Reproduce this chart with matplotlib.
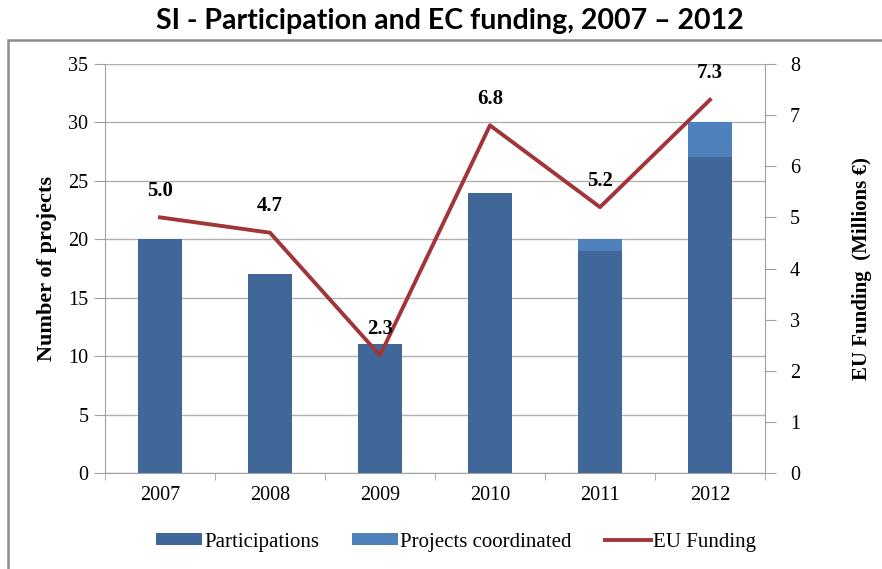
import numpy as np
import matplotlib.pyplot as plt
from matplotlib.patches import Rectangle

years = ["2007", "2008", "2009", "2010", "2011", "2012"]
participations = [20, 17, 11, 24, 19, 27]
coordinated = [0, 0, 0, 0, 1, 3]
eu_funding = [5.0, 4.7, 2.3, 6.8, 5.2, 7.3]

dark_blue = "#3F6797"
light_blue = "#4F81BD"
line_red = "#A0363A"
serif = ["Liberation Serif", "DejaVu Serif"]

fig = plt.figure(figsize=(8.82, 5.69), dpi=100)

# outer frame like the original chart box
fig.patches.append(Rectangle((8 / 882, -0.05), 1.0, 1 - 40 / 569 + 0.05,
                             transform=fig.transFigure, fill=False,
                             edgecolor="#8C8C8C", linewidth=1.8))

fig.text(0.51, 1 - 21 / 569, "SI - Participation and EC funding, 2007 \u2013 2012",
         ha="center", va="center", fontsize=20.5, fontweight="bold",
         family=["Lato", "DejaVu Sans"])

ax = fig.add_axes([105 / 882, 1 - 473 / 569, (765 - 105) / 882, (473 - 64) / 569])
x = np.arange(len(years))

b1 = ax.bar(x, participations, width=0.4, color=dark_blue, zorder=2,
            label="Participations")
b2 = ax.bar(x, coordinated, width=0.4, bottom=participations, color=light_blue,
            zorder=2, label="Projects coordinated")

ax.set_xlim(-0.5, len(years) - 0.5)
ax.set_ylim(0, 35)
ax.set_yticks(range(0, 36, 5))
ax.set_xticks(x)
ax.set_xticklabels(years)
ax.set_xticks(np.arange(-0.5, len(years), 1), minor=True)
ax.yaxis.grid(True, color="#B0B0B0", linewidth=1, zorder=0)
ax.set_axisbelow(True)
for s in ["top", "right"]:
    ax.spines[s].set_visible(False)
ax.spines["left"].set_color("#A0A0A0")
ax.spines["bottom"].set_color("#A0A0A0")
ax.tick_params(axis="y", length=8, color="#A0A0A0", labelsize=14.5, pad=4)
ax.tick_params(axis="x", which="major", length=0, labelsize=14.5, pad=9)
ax.tick_params(axis="x", which="minor", length=5, color="#A0A0A0")
for t in ax.get_xticklabels() + ax.get_yticklabels():
    t.set_family(serif)
ax.set_ylabel("Number of projects", fontsize=16, fontweight="bold",
              family=serif, labelpad=8)

ax2 = ax.twinx()
ln, = ax2.plot(x, eu_funding, color=line_red, linewidth=2.8, zorder=3,
               label="EU Funding")
ax2.set_ylim(0, 8)
ax2.set_yticks(range(0, 9))
for s in ["top", "left", "bottom"]:
    ax2.spines[s].set_visible(False)
ax2.spines["right"].set_color("#A0A0A0")
ax2.tick_params(axis="y", length=8, color="#A0A0A0", labelsize=14.5, pad=10)
for t in ax2.get_yticklabels():
    t.set_family(serif)
ax2.set_ylabel("EU Funding  (Millions \u20ac)", fontsize=15, fontweight="bold",
               family=serif, labelpad=37)

for xi, v in zip(x, eu_funding):
    ax2.annotate(f"{v:.1f}", (xi, v), xytext=(0, 19), textcoords="offset points",
                 ha="center", va="center", fontsize=15, fontweight="bold",
                 family=serif, zorder=5)

fig.legend([b1, b2, ln], ["Participations", "Projects coordinated", "EU Funding"],
           loc="center", bbox_to_anchor=(456 / 882, 1 - 542 / 569), ncol=3,
           frameon=False, prop={"family": serif, "size": 15},
           handlelength=2.2, handletextpad=0.1, columnspacing=1.6,
           handleheight=0.5)

fig.savefig("out.png", dpi=100)
